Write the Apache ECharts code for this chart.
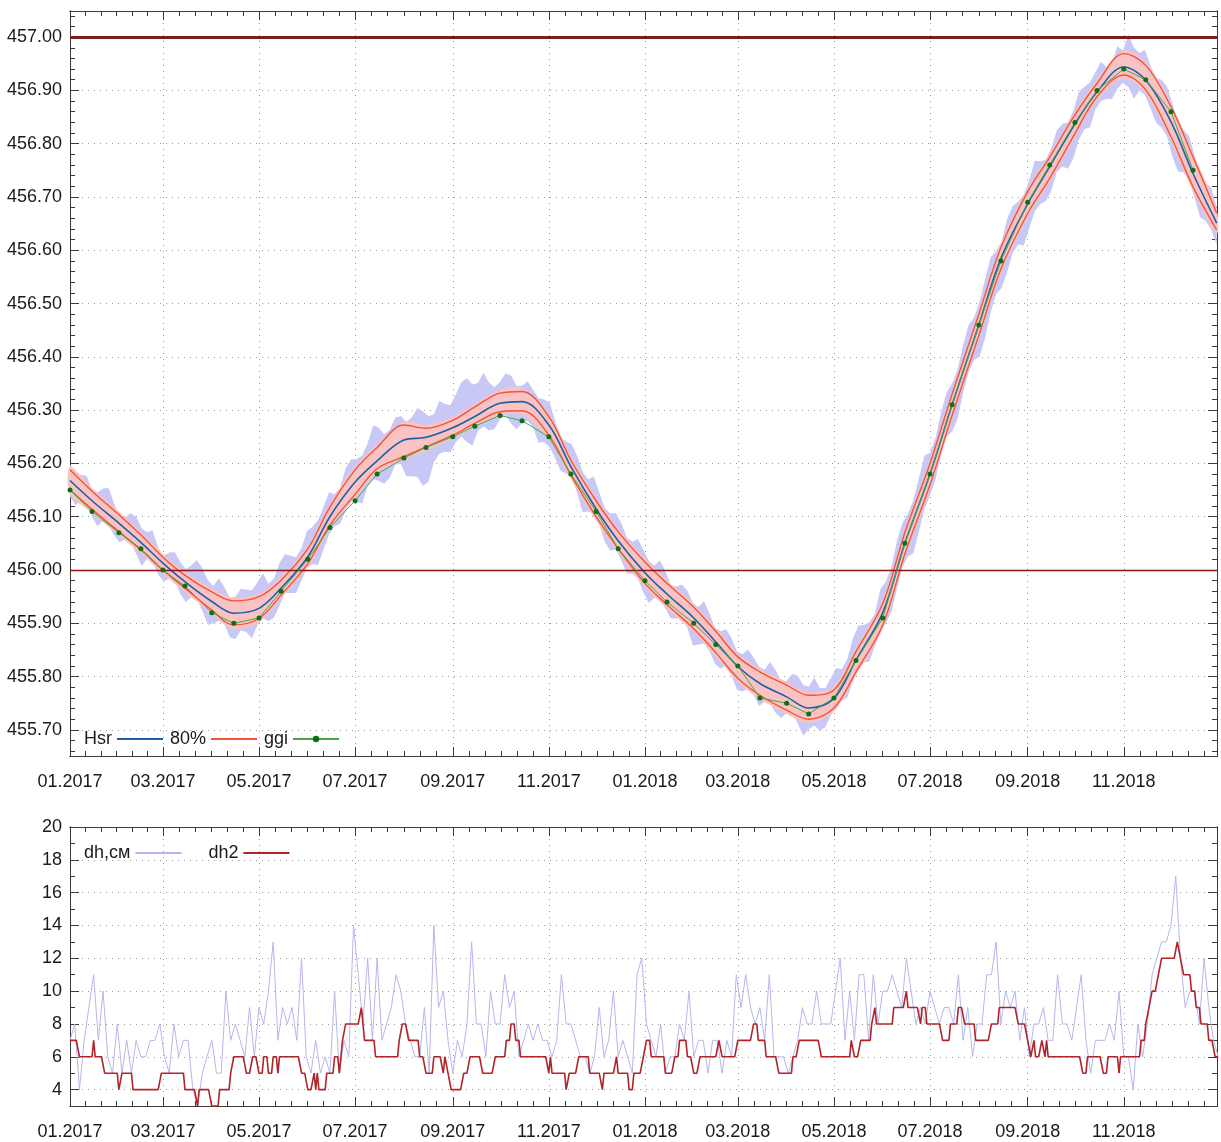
<!DOCTYPE html>
<html><head><meta charset="utf-8">
<script src="https://cdn.jsdelivr.net/npm/echarts@6/dist/echarts.min.js"></script>
<style>html,body{margin:0;padding:0;background:#fff}#c{width:1221px;height:1142px}</style>
</head><body><div id="c"></div><script>
// ---------- DATA ----------
const hsrDates = ['2017-01-01','2017-01-15','2017-02-01','2017-02-15','2017-03-01','2017-03-15','2017-04-01','2017-04-15','2017-05-01','2017-05-15','2017-06-01','2017-06-15','2017-07-01','2017-07-15','2017-08-01','2017-08-15','2017-09-01','2017-09-15','2017-10-01','2017-10-15','2017-11-01','2017-11-15','2017-12-01','2017-12-15','2018-01-01','2018-01-15','2018-02-01','2018-02-15','2018-03-01','2018-03-15','2018-04-01','2018-04-15','2018-05-01','2018-05-15','2018-06-01','2018-06-15','2018-07-01','2018-07-15','2018-08-01','2018-08-15','2018-09-01','2018-09-15','2018-10-01','2018-10-15','2018-11-01','2018-11-15','2018-12-01','2018-12-15','2018-12-30'];
const hsr = [456.168,456.130,456.088,456.052,456.013,455.978,455.941,455.919,455.928,455.966,456.025,456.100,456.165,456.205,456.244,456.249,456.267,456.288,456.313,456.316,456.272,456.194,456.115,456.055,455.995,455.955,455.910,455.865,455.819,455.787,455.762,455.741,455.759,455.831,455.920,456.050,456.180,456.310,456.460,456.585,456.687,456.757,456.837,456.897,456.944,456.919,456.841,456.744,456.651];
const p80Hi = [456.188,456.148,456.104,456.066,456.024,455.990,455.959,455.942,455.950,455.981,456.040,456.118,456.188,456.230,456.272,456.266,456.281,456.306,456.332,456.335,456.288,456.206,456.130,456.072,456.015,455.975,455.930,455.885,455.837,455.809,455.784,455.765,455.775,455.847,455.937,456.070,456.200,456.330,456.480,456.605,456.710,456.775,456.854,456.913,456.969,456.947,456.869,456.775,456.670];
const p80Lo = [456.150,456.114,456.072,456.038,456.000,455.966,455.925,455.897,455.909,455.953,456.012,456.084,456.142,456.190,456.213,456.231,456.253,456.275,456.297,456.299,456.253,456.178,456.100,456.040,455.975,455.935,455.890,455.845,455.797,455.765,455.737,455.720,455.741,455.809,455.897,456.030,456.160,456.290,456.440,456.565,456.669,456.735,456.819,456.888,456.929,456.901,456.813,456.719,456.638];
const bandHi = [456.194,456.154,456.110,456.072,456.030,455.996,455.965,455.948,455.956,455.987,456.046,456.124,456.194,456.236,456.278,456.272,456.287,456.312,456.338,456.341,456.294,456.212,456.136,456.078,456.021,455.981,455.936,455.891,455.843,455.815,455.790,455.771,455.781,455.853,455.943,456.076,456.206,456.336,456.486,456.611,456.716,456.781,456.860,456.919,456.975,456.953,456.875,456.781,456.676];
const bandLo = [456.143,456.107,456.065,456.031,455.993,455.959,455.918,455.890,455.902,455.946,456.005,456.077,456.135,456.183,456.206,456.224,456.246,456.268,456.290,456.292,456.246,456.171,456.093,456.033,455.968,455.928,455.883,455.838,455.790,455.758,455.730,455.713,455.734,455.802,455.890,456.023,456.153,456.283,456.433,456.558,456.662,456.728,456.812,456.881,456.922,456.894,456.806,456.712,456.631];
const ggiDates = hsrDates.slice(0, 48);
const ggi = [456.15,456.11,456.07,456.04,456.00,455.97,455.92,455.90,455.91,455.96,456.02,456.08,456.13,456.18,456.21,456.23,456.25,456.27,456.29,456.28,456.25,456.18,456.11,456.04,455.98,455.94,455.90,455.86,455.82,455.76,455.75,455.73,455.76,455.83,455.91,456.05,456.18,456.31,456.46,456.58,456.69,456.76,456.84,456.90,456.94,456.92,456.86,456.75];
// raw daily spread (envelope), one value every 3.5 days from 2017-01-01
const rawStepDays = 3.5;
const rawHi = [456.198,456.179,456.179,456.177,456.150,456.146,456.153,456.154,456.125,456.100,
456.098,456.107,456.100,456.078,456.071,456.074,456.041,456.027,456.033,456.034,
456.015,456.002,456.009,456.019,456.004,455.981,455.970,455.984,455.968,455.947,
455.950,455.965,455.963,455.962,455.977,455.994,455.974,455.984,456.013,456.030,
456.027,456.024,456.041,456.073,456.081,456.094,456.119,456.146,456.142,456.155,
456.191,456.208,456.208,456.215,456.238,456.271,456.267,456.255,456.263,456.286,
456.289,456.278,456.286,456.304,456.298,456.289,456.292,456.317,456.312,456.309,
456.330,456.353,456.360,456.348,456.351,456.370,456.352,456.343,456.353,456.369,
456.365,456.346,456.346,456.354,456.338,456.323,456.320,456.315,456.280,456.249,
456.241,456.236,456.214,456.184,456.170,456.176,456.146,456.116,456.106,456.107,
456.088,456.061,456.053,456.058,456.038,456.017,456.008,456.018,455.998,455.972,
455.969,455.973,455.961,455.938,455.930,455.942,455.918,455.892,455.885,455.889,
455.872,455.847,455.842,455.851,455.836,455.819,455.813,455.828,455.812,455.790,
455.792,455.805,455.802,455.784,455.781,455.798,455.779,455.778,455.797,455.816,
455.814,455.833,455.871,455.896,455.897,455.902,455.918,455.964,455.979,456.005,
456.054,456.088,456.106,456.132,456.173,456.215,456.220,456.248,456.295,456.333,
456.350,456.376,456.422,456.460,456.474,456.504,456.546,456.587,456.598,456.617,
456.659,456.683,456.691,456.704,456.732,456.768,456.767,456.770,456.792,456.825,
456.837,456.840,456.862,456.897,456.907,456.915,456.934,456.954,456.944,456.952,
456.983,456.975,457.006,456.980,456.970,456.976,456.946,456.923,456.920,456.907,
456.874,456.840,456.826,456.814,456.778,456.746,456.725,456.718,456.681];
const rawLo = [456.138,456.122,456.129,456.123,456.100,456.082,456.093,456.085,456.065,456.052,
456.058,456.054,456.030,456.008,456.021,456.014,455.991,455.979,455.983,455.981,
455.955,455.940,455.949,455.945,455.924,455.897,455.900,455.905,455.898,455.874,
455.870,455.887,455.883,455.872,455.897,455.909,455.904,455.911,455.933,455.957,
455.957,455.957,455.981,456.004,456.011,456.010,456.039,456.067,456.082,456.087,
456.111,456.130,456.128,456.125,456.158,456.171,456.167,456.162,456.173,456.198,
456.199,456.176,456.176,456.175,456.158,456.165,456.202,456.218,456.222,456.221,
456.240,456.250,456.240,456.233,456.261,456.270,456.262,456.265,456.283,456.291,
456.275,456.264,456.276,456.280,456.268,456.239,456.240,456.231,456.210,456.186,
456.181,456.173,456.144,456.109,456.110,456.106,456.086,456.053,456.036,456.039,
456.018,455.994,455.993,455.984,455.958,455.938,455.948,455.944,455.928,455.909,
455.909,455.910,455.891,455.858,455.860,455.862,455.848,455.824,455.815,455.821,
455.802,455.775,455.772,455.777,455.766,455.745,455.753,455.749,455.732,455.722,
455.732,455.732,455.712,455.689,455.701,455.708,455.699,455.705,455.727,455.753,
455.754,455.761,455.791,455.817,455.827,455.828,455.858,455.885,455.899,455.922,
455.964,456.005,456.026,456.032,456.073,456.115,456.140,456.170,456.215,456.250,
456.260,456.284,456.332,456.371,456.394,456.400,456.436,456.483,456.518,456.529,
456.559,456.595,456.611,456.609,456.642,456.673,456.687,456.692,456.712,456.747,
456.757,456.753,456.772,456.808,456.827,456.831,456.864,456.880,456.884,456.884,
456.903,456.915,456.906,456.885,456.900,456.891,456.866,456.840,456.830,456.814,
456.774,456.748,456.746,456.730,456.698,456.662,456.655,456.639,456.611];
// dh, cm: one value every 3 days from 2017-01-01
const dhStepDays = 3;
const dh = [7,8,4,7,9,11,7,10,6,5, 8,5,7,5,7,6,6,7,7,8, 6,5,8,6,7,7,4,3,5,6, 7,5,5,10,7,8,7,6,9,6, 9,8,10,13,7,9,8,9,7,12, 6,5,7,5,6,5,10,5,7,6, 14,11,8,12,7,12,7,8,9,11,
 10,8,7,6,6,9,5,14,9,10, 7,5,7,6,8,13,8,8,6,10, 8,8,11,9,10,6,7,8,7,8, 7,7,6,7,11,8,8,7,6,6, 5,6,9,6,7,10,6,7,6,5, 11,12,8,
 7,6,8,5,6,6,8,7,10,6, 7,7,5,7,7,5,7,6,11,9, 11,9,8,9,7,11,6,6,6,5, 6,7,9,8,8,10,8,8,8,10, 12,7,10,7,11,11,7,11,8,10, 10,11,10,9,12,10,8,9,8,10, 9,
 8,9,9,8,11,7,9,6,8,8, 11,11,13,8,10,9,10,7,9,6, 8,8,9,7,7,11,8,8,7,9, 11,7,5,7,7,7,8,7,10,6, 6,4,8,6,8,11,12,13,13,14, 17,12,9,10,10,8,12,9,7,6];
// dh2: step runs (start day from 2017-01-01, value)
const dh2Start = [0,6,15,16,22,31,33,40,58,73,81,82,90,95,102,104,112,116,120,123,126,129,132,133,147,151,155,156,157,158,163,168,171,172,173,175,185,186,187,194,209,211,215,222,226,231,237,238,240,242,250,254,262,270,277,280,283,286,304,305,306,315,317,323,330,338,339,347,348,355,358,364,366,369,378,384,387,392,396,400,412,414,424,434,437,442,450,459,463,477,496,498,502,509,511,512,523,531,532,540,541,544,554,559,564,568,575,585,590,602,608,610,612,613,617,619,620,621,643,646,656,659,666,667,680,683,685,687,691,693,703,705,707,712,715,718,723,727];
const dh2Val   = [7,6,7,6,5,4,5,4,5,4,3,4,3,4,5,6,5,6,5,6,5,6,5,6,5,4,5,4,5,4,5,6,5,6,7,8,9,8,7,6,7,8,7,6,5,6,5,6,5,4,5,6,5,6,7,8,7,6,5,6,5,4,5,6,5,4,5,6,5,4,5,6,7,6,5,6,7,6,5,6,7,6,7,8,7,6,5,6,7,6,7,6,7,8,9,8,9,10,9,8,9,8,7,8,9,8,7,8,9,8,7,6,7,6,7,6,7,6,5,6,5,6,5,6,7,8,9,10,11,12,13,12,11,10,9,8,7,6];
const topTickLabels = ['455.70','455.80','455.90','456.00','456.10','456.20','456.30','456.40','456.50','456.60','456.70','456.80','456.90','457.00'];
const botTickLabels = [4,6,8,10,12,14,16,18,20];
const refLevels = [457.00, 456.00];

// ---------- HELPERS ----------
const FONT = "'Liberation Sans','Arial',sans-serif";
const FS = 18;
const DAY0 = Date.UTC(2017,0,1);
const dayOf = s => { const p = s.split('-').map(Number); return (Date.UTC(p[0],p[1]-1,p[2]) - DAY0)/864e5; };
const X_MAX = 728.2;
const majors = []; for (let k=0;k<=12;k++) majors.push((Date.UTC(2017,2*k,1)-DAY0)/864e5);
const minors = [];
for (let k=0;k<12;k++){ for(let j=1;j<6;j++){ const v = majors[k]+(majors[k+1]-majors[k])*j/6; if (v<X_MAX) minors.push(v);} }
const xMaj = majors.filter(v=>v<=X_MAX);
const fmtX = v => { const d = new Date(DAY0 + Math.round(v)*864e5); const m = d.getUTCMonth()+1; return (m<10?'0':'')+m+'.'+d.getUTCFullYear(); };
const topMaj = topTickLabels.map(Number);
const topMin = []; for (let c=45566;c<=45704;c+=2){ if (c%10!==0) topMin.push(c/100); }
const botMaj = botTickLabels.slice();
const botMin = []; for (let v=3; v<20; v+=2) botMin.push(v);

const AX = '#3a3a3a';
const grid = [{left:70, top:11, width:1147, height:745},{left:70, top:827, width:1147, height:279}];
function xAx(g, pos, vals, len, label, split){
  return {type:'value', gridIndex:g, position:pos, min:0, max:X_MAX,
    axisLine:{show:true, onZero:false, lineStyle:{color:AX, width:1}},
    axisTick:{show:true, inside:true, length:len, customValues:vals, lineStyle:{color:AX, width:1}},
    axisLabel:label?{show:true, customValues:vals, formatter:fmtX, fontFamily:FONT, fontSize:FS, color:'#1a1a1a', margin:17}:{show:false},
    splitLine:{show:split, lineStyle:{color:'#9a9a9a', type:[1,5], width:1}}};
}
function yAx(g, pos, min, max, vals, len, label, split, fmt){
  return {type:'value', gridIndex:g, position:pos, min:min, max:max,
    axisLine:{show:true, onZero:false, lineStyle:{color:AX, width:1}},
    axisTick:{show:true, inside:true, length:len, customValues:vals, lineStyle:{color:AX, width:1}},
    axisLabel:label?{show:true, customValues:vals, formatter:fmt, fontFamily:FONT, fontSize:FS, color:'#1a1a1a', margin:8}:{show:false},
    splitLine:{show:split, lineStyle:{color:'#9a9a9a', type:[1,5], width:1}}};
}
const xAxis = [
  xAx(0,'bottom',xMaj,9,true,true), xAx(0,'bottom',minors,5,false,false), xAx(0,'top',xMaj,9,false,false), xAx(0,'top',minors,5,false,false),
  xAx(1,'bottom',xMaj,9,true,true), xAx(1,'bottom',minors,5,false,false), xAx(1,'top',xMaj,9,false,false), xAx(1,'top',minors,5,false,false)
];
const f2 = v => v.toFixed(2);
const f0 = v => String(Math.round(v));
const yAxis = [
  yAx(0,'left',455.651,457.049,topMaj,9,true,true,f2), yAx(0,'left',455.651,457.049,topMin,5,false,false),
  yAx(0,'right',455.651,457.049,topMaj,9,false,false), yAx(0,'right',455.651,457.049,topMin,5,false,false),
  yAx(1,'left',3,20,botMaj,9,true,true,f0), yAx(1,'left',3,20,botMin,5,false,false),
  yAx(1,'right',3,20,botMaj,9,false,false), yAx(1,'right',3,20,botMin,5,false,false)
];

const hsrDays = hsrDates.map(dayOf);
const rawDays = rawHi.map((_,i)=>i*rawStepDays);
const dh2Daily = [];
for (let d=0, r=0; d<=729; d++){ while (r+1<dh2Start.length && dh2Start[r+1]<=d) r++; dh2Daily.push([d, dh2Val[r]]); }

// filled band between two edge arrays, drawn through the axis scales
function bandSeries(name, days, lo, hi, color, smooth, z){
  return {type:'custom', name:name, xAxisIndex:0, yAxisIndex:0, silent:true, animation:false, z:z,
    data:[[days[0]]],
    renderItem:(params, api) => {
      const pts = [];
      for (let i=0;i<days.length;i++) pts.push(api.coord([days[i], hi[i]]));
      for (let i=days.length-1;i>=0;i--) pts.push(api.coord([days[i], lo[i]]));
      return {type:'polygon', shape:{points:pts, smooth:smooth}, style:{fill:color, stroke:null}};
    }};
}
const SM = 0.35;
const base = {type:'line', xAxisIndex:0, yAxisIndex:0, symbol:'none', animation:false};
const series = [
  bandSeries('raw', rawDays, rawLo, rawHi, '#c8c8f7', 0, 1),
  bandSeries('band', hsrDays, bandLo, bandHi, '#f9c3c3', 0.3, 2),
  Object.assign({}, base, {name:'80%', z:3, smooth:SM, data: hsrDays.map((d,i)=>[d, p80Hi[i]]), color:'#f2533a', lineStyle:{width:1.4, color:'#f2533a'}}),
  Object.assign({}, base, {name:'80%', z:3, smooth:SM, data: hsrDays.map((d,i)=>[d, p80Lo[i]]), color:'#f2533a', lineStyle:{width:1.4, color:'#f2533a'}}),
  Object.assign({}, base, {name:'Hsr', z:4, smooth:SM, data: hsrDays.map((d,i)=>[d, hsr[i]]), color:'#1f5fa8', lineStyle:{width:1.6, color:'#1f5fa8'}}),
  Object.assign({}, base, {name:'ggi', z:5, symbol:'circle', symbolSize:5, showSymbol:true, data: ggiDates.map((s,i)=>[dayOf(s), ggi[i]]), color:'#0d720d', itemStyle:{color:'#0d720d', borderWidth:0}, lineStyle:{width:1, color:'#4aa54a'}}),
  Object.assign({}, base, {name:'ref', z:6, data:[], markLine:{silent:true, symbol:'none', animation:false, label:{show:false},
     data:[{yAxis:refLevels[0], lineStyle:{color:'#7b1d1d', width:3, type:'solid'}},{yAxis:refLevels[1], lineStyle:{color:'#8e1515', width:1.3, type:'solid'}}]}}),
  {type:'line', name:'dh,см', xAxisIndex:4, yAxisIndex:4, symbol:'none', animation:false, data: dh.map((v,i)=>[i*dhStepDays, v]), color:'#b6b6ef', lineStyle:{width:1, color:'#b6b6ef'}},
  {type:'line', name:'dh2', xAxisIndex:4, yAxisIndex:4, symbol:'none', animation:false, data: dh2Daily, color:'#b0242a', lineStyle:{width:1.6, color:'#b0242a'}}
];

const legendText = {fontFamily:FONT, fontSize:FS, color:'#1a1a1a'};
const noDot = {color:'rgba(0,0,0,0)', borderWidth:0};
const option = {
  animation:false, backgroundColor:'#ffffff',
  grid: grid, xAxis: xAxis, yAxis: yAxis, series: series,
  legend:[
    {data:[{name:'Hsr', itemStyle:noDot},{name:'80%', itemStyle:noDot},'ggi'], left:79, top:725, align:'right', itemWidth:46, itemHeight:8, itemGap:6, textStyle:legendText, selectedMode:false},
    {data:[{name:'dh,см', itemStyle:noDot},{name:'dh2', itemStyle:noDot}], left:79, top:839, align:'right', itemWidth:46, itemHeight:8, itemGap:26, textStyle:legendText, selectedMode:false}
  ]
};
const chart = echarts.init(document.getElementById('c'), null, {renderer:'canvas'});
chart.setOption(option);
</script></body></html>
